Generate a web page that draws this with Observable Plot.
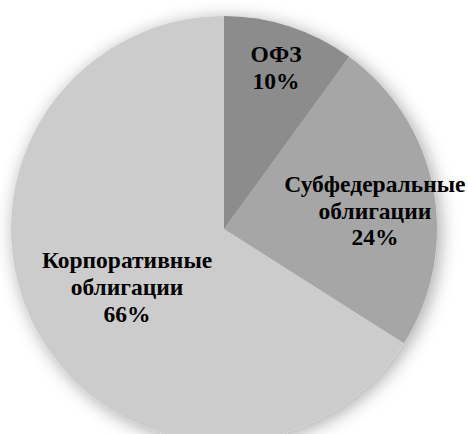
<!DOCTYPE html>
<html><head><meta charset="utf-8">
<script src="https://cdn.jsdelivr.net/npm/d3@7"></script>
<script src="https://cdn.jsdelivr.net/npm/@observablehq/plot@0.6"></script>
<style>body{margin:0;background:#fff}</style>
</head><body><div id="chart"></div>
<script>
const categories = ["ОФЗ", "Субфедеральные облигации", "Корпоративные облигации"];
const labelLines = [["ОФЗ"], ["Субфедеральные", "облигации"], ["Корпоративные", "облигации"]];
const shares = [10, 24, 66];
const colors = ["#8c8c8c", "#a6a6a6", "#cccccc"];

const rows = categories.map((c, i) => ({category: c, share: shares[i], lines: labelLines[i], color: colors[i]}));
const arcs = d3.pie().value(d => d.share).sort(null)(rows);

// label placement (fraction of radius, angular offset in degrees)
const labelR = [0.80, 0.712, 0.53];
const labelDA = [-0.4, 3.4, -1.5];
const labels = arcs.map((a, i) => {
  const ang = (a.startAngle + a.endAngle) / 2 + labelDA[i] * Math.PI / 180;
  return {x: labelR[i] * Math.sin(ang), y: labelR[i] * Math.cos(ang),
          text: a.data.lines.join("\n") + "\n" + a.data.share + "%"};
});

const pieMark = (index, scales) => {
  const cx = scales.x(0), cy = scales.y(0);
  const r = scales.x(1) - scales.x(0);
  const g = d3.create("svg:g");
  g.append("defs").append("filter").attr("id", "shadow")
    .attr("x", "-20%").attr("y", "-20%").attr("width", "140%").attr("height", "140%")
    .append("feDropShadow").attr("dx", 3).attr("dy", 3).attr("stdDeviation", 9)
    .attr("flood-color", "#000").attr("flood-opacity", 0.35);
  const arc = d3.arc().innerRadius(0).outerRadius(r);
  const pg = g.append("g").attr("transform", `translate(${cx},${cy})`).attr("filter", "url(#shadow)");
  pg.selectAll("path").data(arcs).join("path")
    .attr("d", arc).attr("fill", d => d.data.color);
  return g.node();
};

const chart = Plot.plot({
  width: 468,
  height: 434,
  margin: 0,
  style: {background: "#fff"},
  x: {domain: [-1, 1], range: [11, 437], axis: null},
  y: {domain: [-1, 1], range: [442, 16], axis: null},
  marks: [
    pieMark,
    Plot.text(labels, {x: "x", y: "y", text: "text", fontSize: 23.5, lineHeight: 1.14,
      fontWeight: "bold", fontFamily: "Liberation Serif", fill: "#000"})
  ]
});
document.getElementById("chart").append(chart);
</script>
</body></html>
